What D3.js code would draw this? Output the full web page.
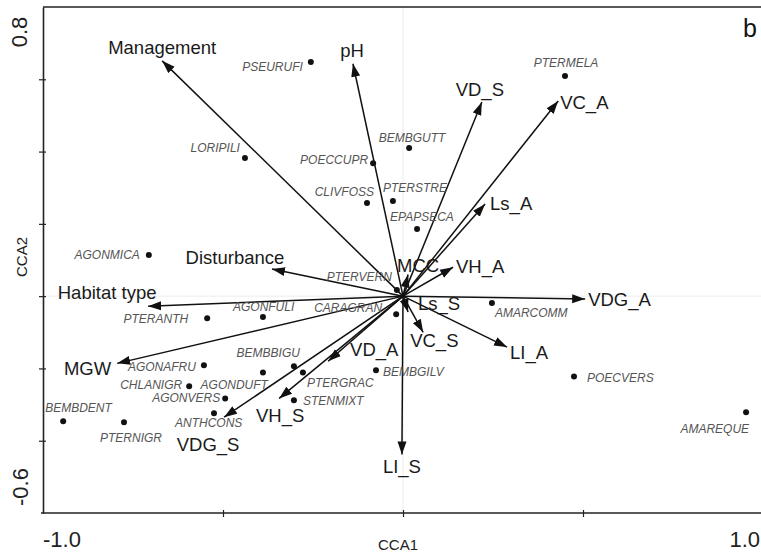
<!DOCTYPE html>
<html>
<head>
<meta charset="utf-8">
<script src="https://cdn.jsdelivr.net/npm/d3@7/dist/d3.min.js"></script>
<style>
  body { margin: 0; background: #fff; }
  svg { display: block; font-family: "Liberation Sans", Arial, sans-serif; }
</style>
</head>
<body>
<svg id="chart" width="761" height="553"></svg>
<script>
// environmental variables (biplot arrows)
const envNames = ["Management", "pH", "VD_S", "VC_A", "Ls_A", "MCC", "VH_A", "VDG_A", "LI_A",
  "Ls_S", "VC_S", "LI_S", "VD_A", "VH_S", "VDG_S", "MGW", "Habitat type", "Disturbance"];
const envX = [-0.669, -0.139, 0.219, 0.431, 0.228, 0.014, 0.139, 0.506, 0.289,
  0.014, 0.056, -0.003, -0.208, -0.344, -0.497, -0.794, -0.708, -0.364];
const envY = [0.651, 0.643, 0.537, 0.540, 0.255, 0.060, 0.080, -0.008, -0.141,
  -0.044, -0.100, -0.438, -0.180, -0.283, -0.335, -0.186, -0.028, 0.075];

// species scores
const spNames = ["PSEURUFI", "LORIPILI", "POECCUPR", "BEMBGUTT", "CLIVFOSS", "PTERSTRE", "EPAPSECA",
  "PTERMELA", "AGONMICA", "PTERVERN", "CARAGRAN", "AGONFULI", "PTERANTH", "AMARCOMM", "AGONAFRU",
  "CHLANIGR", "AGONDUFT", "BEMBBIGU", "PTERGRAC", "BEMBGILV", "STENMIXT", "AGONVERS", "ANTHCONS",
  "BEMBDENT", "PTERNIGR", "POECVERS", "AMAREQUE"];
const spX = [-0.256, -0.439, -0.083, 0.017, -0.100, -0.028, 0.039,
  0.450, -0.706, -0.017, -0.019, -0.389, -0.544, 0.247, -0.553,
  -0.594, -0.389, -0.303, -0.278, -0.075, -0.303, -0.494, -0.525,
  -0.944, -0.775, 0.475, 0.953];
const spY = [0.648, 0.382, 0.368, 0.410, 0.258, 0.263, 0.186,
  0.609, 0.114, 0.017, -0.050, -0.058, -0.061, -0.019, -0.191,
  -0.249, -0.211, -0.194, -0.211, -0.205, -0.288, -0.283, -0.324,
  -0.346, -0.349, -0.222, -0.321];

const xTicks = [-0.5, 0, 0.5];
const yTicks = [-0.4, -0.2, 0, 0.2, 0.4, 0.6];
const xEnds = ["-1.0", "1.0"];
const yEnds = ["0.8", "-0.6"];

// label placement (pixels relative to arrow tip / point)
const envLabelPos = {
  "Management": [0, -7, "middle"], "pH": [-1, -7, "middle"], "VD_S": [-2, -6, "middle"],
  "VC_A": [2, 8, "start"], "Ls_A": [5, 6, "start"], "MCC": [-11, -2, "start"],
  "VH_A": [3, 6, "start"], "VDG_A": [3, 7, "start"], "LI_A": [3, 12, "start"],
  "Ls_S": [10, -2, "start"], "VC_S": [-13, 15, "start"], "LI_S": [0, 19, "middle"],
  "VD_A": [22, -5, "start"], "VH_S": [1, 24, "middle"], "VDG_S": [-16, 34, "middle"],
  "MGW": [-6, 12, "end"], "Habitat type": [-41, -7, "middle"], "Disturbance": [-37, -5, "middle"]
};
const spLabelPos = {
  "PSEURUFI": [-8, 9, "end"], "LORIPILI": [-5, -6, "end"], "POECCUPR": [-5, 1, "end"],
  "BEMBGUTT": [3, -6, "middle"], "CLIVFOSS": [7, -7, "end"], "PTERSTRE": [-10, -9, "start"],
  "EPAPSECA": [-27, -8, "start"], "PTERMELA": [1, -9, "middle"], "AGONMICA": [-9, 4, "end"],
  "PTERVERN": [-5, -9, "end"], "CARAGRAN": [-14, -2, "end"], "AGONFULI": [-30, -6, "start"],
  "PTERANTH": [-19, 5, "end"], "AMARCOMM": [3, 14, "start"], "AGONAFRU": [-8, 6, "end"],
  "CHLANIGR": [-7, 3, "end"], "AGONDUFT": [5, 17, "end"], "BEMBBIGU": [6, -9, "end"],
  "PTERGRAC": [4, 15, "start"], "BEMBGILV": [7, 6, "start"], "STENMIXT": [9, 5, "start"],
  "AGONVERS": [-5, 4, "end"], "ANTHCONS": [-39, 14, "start"], "BEMBDENT": [-18, -9, "start"],
  "PTERNIGR": [-24, 20, "start"], "POECVERS": [13, 6, "start"], "AMAREQUE": [3, 21, "end"]
};

const svg = d3.select("#chart");
const x = d3.scaleLinear().domain([-1, 1]).range([43, 763]);
const y = d3.scaleLinear().domain([-0.6, 0.8]).range([513, 7]);

// zero reference lines
svg.append("line").attr("x1", x(0)).attr("x2", x(0)).attr("y1", y(0.8)).attr("y2", y(-0.6))
  .attr("stroke", "#ececec").attr("stroke-width", 1);
svg.append("line").attr("x1", x(-1)).attr("x2", 761).attr("y1", y(0)).attr("y2", y(0))
  .attr("stroke", "#ececec").attr("stroke-width", 1);

// frame
svg.append("line").attr("x1", x(-1)).attr("x2", 761).attr("y1", y(0.8)).attr("y2", y(0.8))
  .attr("stroke", "#222").attr("stroke-width", 1.6);

const xAxis = svg.append("g").attr("transform", `translate(0,${y(-0.6)})`)
  .call(d3.axisBottom(x).tickValues(xTicks).tickFormat("").tickSize(4).tickSizeOuter(0));
const yAxis = svg.append("g").attr("transform", `translate(${x(-1)},0)`)
  .call(d3.axisLeft(y).tickValues(yTicks).tickFormat("").tickSize(4).tickSizeOuter(0));
xAxis.select(".domain").attr("d", `M${x(-1) - 2},0H761`);
[xAxis, yAxis].forEach(a => {
  a.select(".domain").attr("stroke", "#222").attr("stroke-width", 1.6);
  a.selectAll(".tick line").attr("stroke", "#222").attr("stroke-width", 1.2);
});
xAxis.selectAll(".tick line").attr("y1", -3).attr("y2", 4);
yAxis.selectAll(".tick line").attr("x1", 3).attr("x2", -4);

// end labels
svg.append("text").attr("x", x(-1)).attr("y", 547).attr("font-size", 22).attr("fill", "#222")
  .text(xEnds[0]);
svg.append("text").attr("x", 760).attr("y", 547).attr("text-anchor", "end").attr("font-size", 22)
  .attr("fill", "#222").text(xEnds[1]);
svg.append("text").attr("transform", `translate(27,${y(0.8) + 25}) rotate(-90)`)
  .attr("text-anchor", "middle").attr("font-size", 22).attr("fill", "#222").text(yEnds[0]);
svg.append("text").attr("transform", `translate(28,${y(-0.6) - 26}) rotate(-90)`)
  .attr("text-anchor", "middle").attr("font-size", 22).attr("fill", "#222").text(yEnds[1]);

// axis titles
svg.append("text").attr("x", x(0) - 5).attr("y", 550).attr("text-anchor", "middle")
  .attr("font-size", 15).attr("fill", "#222").text("CCA1");
svg.append("text").attr("transform", `translate(27,${y(0.1) - 3}) rotate(-90)`)
  .attr("text-anchor", "middle").attr("font-size", 15).attr("fill", "#222").text("CCA2");

svg.append("text").attr("x", 757).attr("y", 37).attr("text-anchor", "end")
  .attr("font-size", 25).attr("fill", "#111").text("b");

// arrow marker
svg.append("defs").append("marker")
  .attr("id", "head").attr("viewBox", "0 -5 13 10").attr("refX", 13).attr("refY", 0)
  .attr("markerUnits", "userSpaceOnUse").attr("markerWidth", 13).attr("markerHeight", 10)
  .attr("orient", "auto")
  .append("path").attr("d", "M0,-4.5L13,0L0,4.5Z").attr("fill", "#111");

const env = envNames.map((n, i) => ({ name: n, x: envX[i], y: envY[i] }));
const sp = spNames.map((n, i) => ({ name: n, x: spX[i], y: spY[i] }));

svg.append("g").selectAll("line").data(env).join("line")
  .attr("x1", x(0)).attr("y1", y(0))
  .attr("x2", d => x(d.x)).attr("y2", d => y(d.y))
  .attr("stroke", "#111").attr("stroke-width", 1.5)
  .attr("marker-end", "url(#head)");

svg.append("g").selectAll("text").data(env).join("text")
  .attr("x", d => x(d.x) + envLabelPos[d.name][0])
  .attr("y", d => y(d.y) + envLabelPos[d.name][1])
  .attr("text-anchor", d => envLabelPos[d.name][2])
  .attr("font-size", 18.5).attr("fill", "#1a1a1a")
  .text(d => d.name);

svg.append("g").selectAll("circle").data(sp).join("circle")
  .attr("cx", d => x(d.x)).attr("cy", d => y(d.y)).attr("r", 3)
  .attr("fill", "#111");

svg.append("g").selectAll("text").data(sp).join("text")
  .attr("x", d => x(d.x) + spLabelPos[d.name][0])
  .attr("y", d => y(d.y) + spLabelPos[d.name][1])
  .attr("text-anchor", d => spLabelPos[d.name][2])
  .attr("font-size", 12).attr("font-style", "italic").attr("fill", "#555")
  .text(d => d.name);
</script>
</body>
</html>
